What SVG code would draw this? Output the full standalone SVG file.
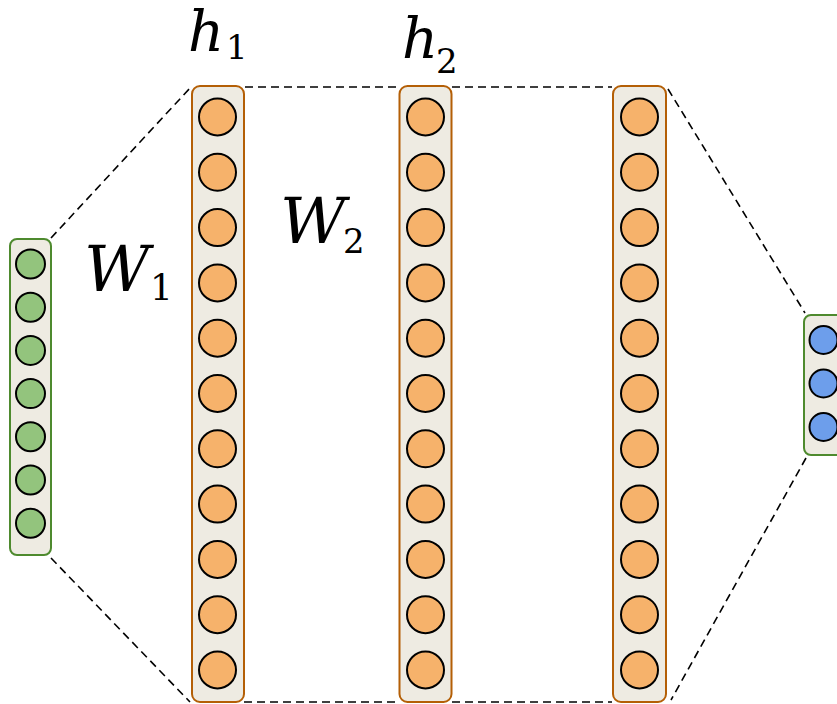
<svg xmlns="http://www.w3.org/2000/svg" width="837" height="704" viewBox="0 0 837 704">
<style>
.box{fill:#EEEBE2;stroke-width:2}
.ob{stroke:#B45F06}
.gb{stroke:#4E8A2E}
.n{stroke:#000;stroke-width:2}
.o{fill:#F6B26B}
.g{fill:#93C47D}
.b{fill:#6D9EEB}
.dash{fill:none;stroke:#000;stroke-width:1.6;stroke-dasharray:8 5}
.lab{font-family:'DejaVu Serif',serif;font-style:italic;fill:#000}
.sub{font-family:'DejaVu Serif',serif;fill:#000}
</style>
<rect width="837" height="704" fill="#fff"/>
<g id="connectors">
<line class="dash" x1="51" y1="238" x2="191" y2="87"/>
<line class="dash" x1="51" y1="558" x2="190" y2="702"/>
<line class="dash" x1="245" y1="87" x2="399" y2="87"/>
<line class="dash" x1="452" y1="87" x2="612" y2="87"/>
<line class="dash" x1="244" y1="702" x2="399" y2="702"/>
<line class="dash" x1="452" y1="702" x2="612" y2="702"/>
<line class="dash" x1="668" y1="89" x2="805" y2="313"/>
<line class="dash" x1="806" y1="458" x2="671" y2="700"/>
</g>
<g id="input">
<rect class="box gb" x="10" y="239" width="41" height="316" rx="7"/>
<circle class="n g" cx="30.5" cy="264" r="14.5"/>
<circle class="n g" cx="30.5" cy="307.2" r="14.5"/>
<circle class="n g" cx="30.5" cy="350.4" r="14.5"/>
<circle class="n g" cx="30.5" cy="393.6" r="14.5"/>
<circle class="n g" cx="30.5" cy="436.8" r="14.5"/>
<circle class="n g" cx="30.5" cy="480" r="14.5"/>
<circle class="n g" cx="30.5" cy="523.2" r="14.5"/>
</g>
<g id="h1">
<rect class="box ob" x="192" y="86" width="52" height="616" rx="8"/>
<circle class="n o" cx="217.5" cy="117" r="18.5"/>
<circle class="n o" cx="217.5" cy="172.3" r="18.5"/>
<circle class="n o" cx="217.5" cy="227.6" r="18.5"/>
<circle class="n o" cx="217.5" cy="282.9" r="18.5"/>
<circle class="n o" cx="217.5" cy="338.2" r="18.5"/>
<circle class="n o" cx="217.5" cy="393.5" r="18.5"/>
<circle class="n o" cx="217.5" cy="448.8" r="18.5"/>
<circle class="n o" cx="217.5" cy="504.1" r="18.5"/>
<circle class="n o" cx="217.5" cy="559.4" r="18.5"/>
<circle class="n o" cx="217.5" cy="614.7" r="18.5"/>
<circle class="n o" cx="217.5" cy="670" r="18.5"/>
</g>
<g id="h2">
<rect class="box ob" x="399.5" y="86" width="52" height="616" rx="8"/>
<circle class="n o" cx="425.5" cy="117" r="18.5"/>
<circle class="n o" cx="425.5" cy="172.3" r="18.5"/>
<circle class="n o" cx="425.5" cy="227.6" r="18.5"/>
<circle class="n o" cx="425.5" cy="282.9" r="18.5"/>
<circle class="n o" cx="425.5" cy="338.2" r="18.5"/>
<circle class="n o" cx="425.5" cy="393.5" r="18.5"/>
<circle class="n o" cx="425.5" cy="448.8" r="18.5"/>
<circle class="n o" cx="425.5" cy="504.1" r="18.5"/>
<circle class="n o" cx="425.5" cy="559.4" r="18.5"/>
<circle class="n o" cx="425.5" cy="614.7" r="18.5"/>
<circle class="n o" cx="425.5" cy="670" r="18.5"/>
</g>
<g id="h3">
<rect class="box ob" x="613" y="86" width="53" height="616" rx="8"/>
<circle class="n o" cx="639.5" cy="117" r="18.5"/>
<circle class="n o" cx="639.5" cy="172.3" r="18.5"/>
<circle class="n o" cx="639.5" cy="227.6" r="18.5"/>
<circle class="n o" cx="639.5" cy="282.9" r="18.5"/>
<circle class="n o" cx="639.5" cy="338.2" r="18.5"/>
<circle class="n o" cx="639.5" cy="393.5" r="18.5"/>
<circle class="n o" cx="639.5" cy="448.8" r="18.5"/>
<circle class="n o" cx="639.5" cy="504.1" r="18.5"/>
<circle class="n o" cx="639.5" cy="559.4" r="18.5"/>
<circle class="n o" cx="639.5" cy="614.7" r="18.5"/>
<circle class="n o" cx="639.5" cy="670" r="18.5"/>
</g>
<g id="output">
<rect class="box gb" x="804" y="315" width="42" height="140" rx="7"/>
<circle class="n b" cx="823.5" cy="340" r="14"/>
<circle class="n b" cx="823.5" cy="383.5" r="14"/>
<circle class="n b" cx="823.5" cy="427" r="14"/>
</g>
<g id="labels">
<text class="lab" x="188" y="51" font-size="56">h</text>
<text class="sub" x="226" y="59" font-size="34">1</text>
<text class="lab" x="402" y="58" font-size="56">h</text>
<text class="sub" x="436" y="73" font-size="34">2</text>
<text class="lab" x="84" y="291" font-size="64">W</text>
<text class="sub" x="150" y="300" font-size="36">1</text>
<text class="lab" x="280" y="243" font-size="64">W</text>
<text class="sub" x="343" y="253" font-size="34">2</text>
</g>
</svg>
